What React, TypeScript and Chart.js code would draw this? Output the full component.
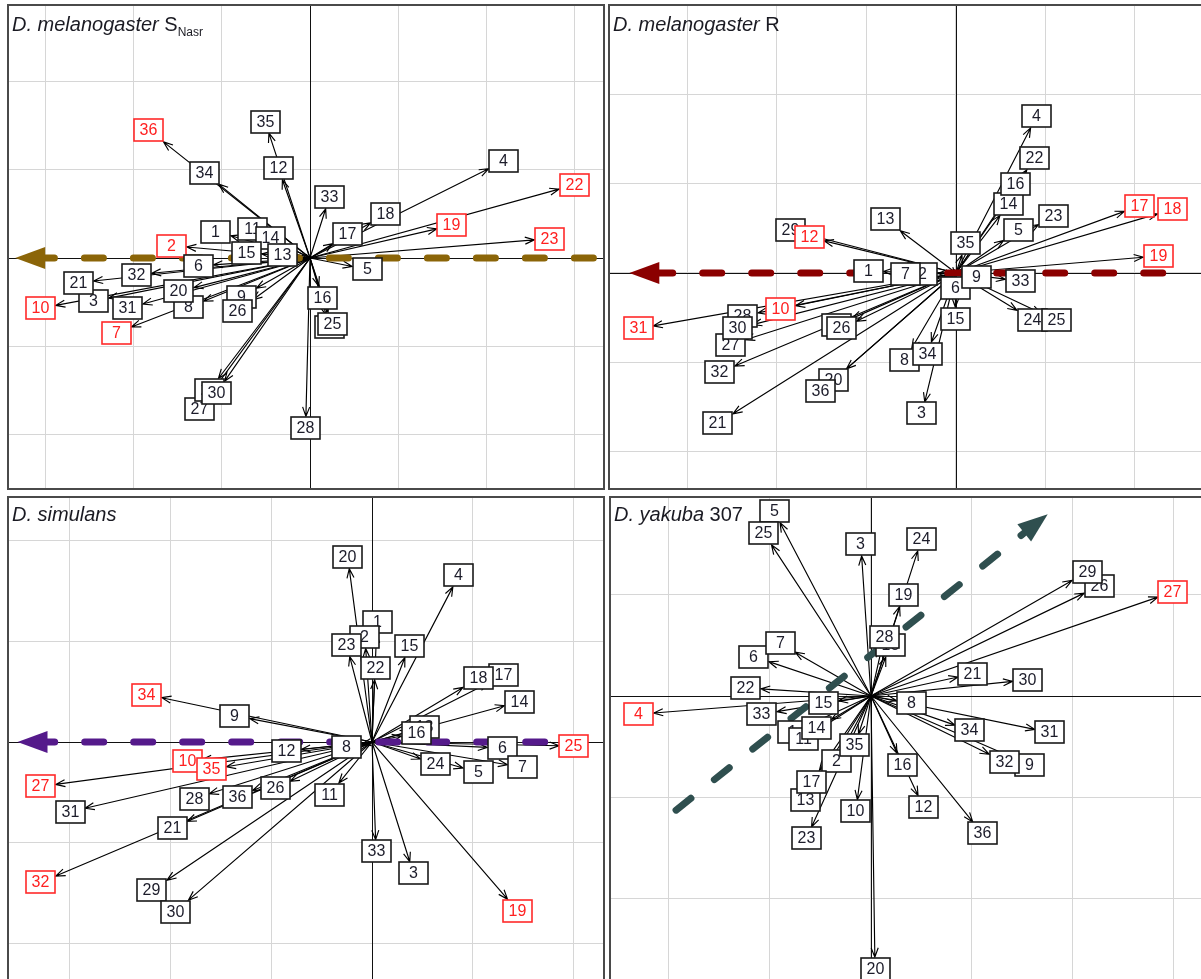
import React, { useEffect, useRef } from "react";
import { Chart, registerables } from "chart.js";

Chart.register(...registerables);

// ---------- D. melanogaster S_Nasr (top left) ----------
const TL_LABELS = ["1", "2", "3", "4", "5", "6", "7", "8", "9", "10", "11", "12", "14", "15", "13", "16", "17", "18", "19", "20", "21", "22", "23", "24", "25", "26", "27", "28", "29", "30", "31", "32", "33", "34", "35", "36"];
const TL_X = [-1.07, -1.57, -2.46, 2.2, 0.65, -1.27, -2.2, -1.38, -0.78, -3.06, -0.65, -0.36, -0.45, -0.72, -0.31, 0.14, 0.43, 0.86, 1.61, -1.49, -2.63, 3.0, 2.72, 0.22, 0.25, -0.82, -1.26, -0.05, -1.14, -1.06, -2.07, -1.97, 0.22, -1.2, -0.51, -1.83];
const TL_Y = [0.3, 0.14, -0.49, 1.1, -0.13, -0.09, -0.85, -0.56, -0.44, -0.57, 0.33, 1.02, 0.23, 0.06, 0.03, -0.45, 0.27, 0.5, 0.37, -0.38, -0.28, 0.83, 0.22, -0.78, -0.75, -0.6, -1.72, -1.93, -1.5, -1.53, -0.57, -0.19, 0.69, 0.97, 1.55, 1.45];
const TL_RED = ["36", "2", "10", "7", "19", "22", "23"];
const TL_VEC_X = [3.22, -3.35];
const TL_VEC_Y = [0, 0];

// ---------- D. melanogaster R (top right) ----------
const TR_LABELS = ["29", "1", "2", "3", "4", "5", "6", "7", "8", "9", "10", "11", "12", "13", "14", "15", "16", "17", "18", "19", "20", "21", "22", "23", "24", "25", "26", "27", "28", "30", "31", "32", "33", "34", "35", "36"];
const TR_X = [-1.85, -0.98, -0.37, -0.38, 0.9, 0.7, -0.01, -0.56, -0.57, 0.23, -1.96, -1.33, -1.64, -0.79, 0.59, -0.01, 0.67, 2.05, 2.42, 2.26, -1.37, -2.66, 0.88, 1.09, 0.85, 1.12, -1.28, -2.52, -2.38, -2.44, -3.55, -2.64, 0.72, -0.32, 0.11, -1.51];
const TR_Y = [0.48, 0.02, -0.01, -1.57, 1.75, 0.48, -0.17, -0.01, -0.97, -0.04, -0.4, -0.58, 0.4, 0.6, 0.77, -0.51, 1.0, 0.75, 0.71, 0.19, -1.2, -1.68, 1.28, 0.64, -0.52, -0.53, -0.62, -0.8, -0.48, -0.62, -0.62, -1.11, -0.09, -0.9, 0.33, -1.32];
const TR_RED = ["12", "10", "31", "17", "18", "19"];
const TR_VEC_X = [2.31, -3.65];
const TR_VEC_Y = [0, 0];

// ---------- D. simulans (bottom left) ----------
const BL_LABELS = ["1", "2", "3", "4", "5", "6", "7", "8", "9", "10", "11", "12", "13", "14", "15", "16", "17", "18", "19", "20", "21", "22", "23", "24", "25", "26", "27", "28", "29", "30", "31", "32", "33", "34", "35", "36"];
const BL_X = [0.05, -0.07, 0.41, 0.86, 1.05, 1.29, 1.49, -0.25, -1.36, -1.83, -0.42, -0.85, 0.52, 1.46, 0.37, 0.44, 1.3, 1.05, 1.44, -0.24, -1.98, 0.03, -0.25, 0.63, 2.0, -0.96, -3.28, -1.76, -2.18, -1.95, -2.99, -3.28, 0.04, -2.23, -1.59, -1.33];
const BL_Y = [1.19, 1.04, -1.3, 1.65, -0.3, -0.06, -0.25, -0.05, 0.26, -0.19, -0.52, -0.09, 0.15, 0.4, 0.95, 0.09, 0.66, 0.63, -1.67, 1.83, -0.85, 0.73, 0.96, -0.22, -0.04, -0.46, -0.44, -0.56, -1.47, -1.68, -0.69, -1.39, -1.08, 0.47, -0.27, -0.54];
const BL_RED = ["34", "10", "35", "27", "32", "19", "25"];
const BL_VEC_X = [1.71, -3.51];
const BL_VEC_Y = [0, 0];

// ---------- D. yakuba 307 (bottom right) ----------
const BR_LABELS = ["1", "2", "3", "4", "5", "6", "7", "8", "9", "10", "11", "12", "13", "14", "15", "16", "17", "18", "19", "20", "21", "22", "23", "24", "25", "26", "27", "28", "29", "30", "31", "32", "33", "34", "35", "36"];
const BR_X = [-0.78, -0.34, -0.1, -2.3, -0.96, -1.16, -0.9, 0.4, 1.57, -0.15, -0.67, 0.52, -0.65, -0.54, -0.47, 0.31, -0.59, 0.19, 0.32, 0.04, 1.01, -1.24, -0.64, 0.5, -1.06, 2.26, 2.99, 0.13, 2.14, 1.55, 1.77, 1.32, -1.08, 0.98, -0.16, 1.1];
const BR_Y = [-0.36, -0.64, 1.5, -0.18, 1.83, 0.39, 0.52, -0.07, -0.68, -1.14, -0.43, -1.1, -1.03, -0.32, -0.07, -0.68, -0.85, 0.5, 1.0, -2.7, 0.22, 0.08, -1.41, 1.55, 1.61, 1.09, 1.03, 0.58, 1.23, 0.16, -0.36, -0.65, -0.18, -0.34, -0.49, -1.36];
const BR_RED = ["4", "27"];
const BR_VEC_X = [-1.93, 1.75];
const BR_VEC_Y = [-1.13, 1.8];

const FONT = '"Liberation Sans", Arial, sans-serif';
const BOX_W = 29;
const BOX_H = 22;

type TitlePart = { text: string; italic?: boolean; size: number; dy?: number };

interface PanelSpec {
  key: string;
  left: number;
  top: number;
  width: number;
  height: number;
  xRange: [number, number];
  yRange: [number, number];
  labels: string[];
  xs: number[];
  ys: number[];
  red: string[];
  vecX: number[];
  vecY: number[];
  color: string;
  title: TitlePart[];
  titleY: number;
}

const PANELS: PanelSpec[] = [
  {
    key: "tl", left: 7, top: 4, width: 598, height: 486,
    xRange: [-3.443, 3.352], yRange: [-2.636, 2.886],
    labels: TL_LABELS, xs: TL_X, ys: TL_Y, red: TL_RED, vecX: TL_VEC_X, vecY: TL_VEC_Y,
    color: "#8B6508",
    title: [
      { text: "D. melanogaster ", italic: true, size: 20 },
      { text: "S", size: 20 },
      { text: "Nasr", size: 12, dy: 5 },
    ],
    titleY: 27,
  },
  {
    key: "tr", left: 608, top: 4, width: 600, height: 486,
    xRange: [-3.888, 2.816], yRange: [-2.425, 3.006],
    labels: TR_LABELS, xs: TR_X, ys: TR_Y, red: TR_RED, vecX: TR_VEC_X, vecY: TR_VEC_Y,
    color: "#8B0000",
    title: [
      { text: "D. melanogaster ", italic: true, size: 20 },
      { text: "R", size: 20 },
    ],
    titleY: 27,
  },
  {
    key: "bl", left: 7, top: 496, width: 598, height: 490,
    xRange: [-3.614, 2.307], yRange: [-2.416, 2.436],
    labels: BL_LABELS, xs: BL_X, ys: BL_Y, red: BL_RED, vecX: BL_VEC_X, vecY: BL_VEC_Y,
    color: "#551A8B",
    title: [{ text: "D. simulans", italic: true, size: 20 }],
    titleY: 25,
  },
  {
    key: "br", left: 609, top: 496, width: 600, height: 490,
    xRange: [-2.594, 3.347], yRange: [-2.871, 1.98],
    labels: BR_LABELS, xs: BR_X, ys: BR_Y, red: BR_RED, vecX: BR_VEC_X, vecY: BR_VEC_Y,
    color: "#2F4F4F",
    title: [
      { text: "D. yakuba ", italic: true, size: 20 },
      { text: "307", size: 20 },
    ],
    titleY: 25,
  },
];

function intTicks(min: number, max: number) {
  const out: { value: number }[] = [];
  for (let v = Math.ceil(min); v <= Math.floor(max); v++) out.push({ value: v });
  return out;
}

function makePlugin(p: PanelSpec) {
  return {
    id: "biplot-" + p.key,
    afterDatasetsDraw(chart: any) {
      const ctx: CanvasRenderingContext2D = chart.ctx;
      const sx = chart.scales.x;
      const sy = chart.scales.y;
      const area = chart.chartArea;
      const ox = sx.getPixelForValue(0);
      const oy = sy.getPixelForValue(0);
      ctx.save();

      // zero axes
      ctx.strokeStyle = "#111";
      ctx.lineWidth = 1;
      ctx.beginPath();
      const axX = Math.round(ox) + 0.5;
      const axY = Math.round(oy) + 0.5;
      ctx.moveTo(axX, area.top);
      ctx.lineTo(axX, area.bottom);
      ctx.moveTo(area.left, axY);
      ctx.lineTo(area.right, axY);
      ctx.stroke();

      const meta = chart.getDatasetMeta(0);
      const pts = meta.data.map((el: any) => ({ x: el.x, y: el.y }));

      // arrows
      ctx.strokeStyle = "#000";
      ctx.lineWidth = 1.15;
      const hw = BOX_W / 2 + 0.5;
      const hh = BOX_H / 2 + 0.5;
      pts.forEach((pt: { x: number; y: number }) => {
        const vx = pt.x - ox;
        const vy = pt.y - oy;
        const kx = Math.abs(vx) > 1e-6 ? hw / Math.abs(vx) : Infinity;
        const ky = Math.abs(vy) > 1e-6 ? hh / Math.abs(vy) : Infinity;
        const k = Math.min(kx, ky);
        if (k >= 1) return;
        const tx = pt.x - vx * k;
        const ty = pt.y - vy * k;
        const ang = Math.atan2(vy, vx);
        const L = 10;
        const th = 0.36;
        ctx.beginPath();
        ctx.moveTo(ox, oy);
        ctx.lineTo(tx, ty);
        ctx.moveTo(tx - L * Math.cos(ang - th), ty - L * Math.sin(ang - th));
        ctx.lineTo(tx, ty);
        ctx.lineTo(tx - L * Math.cos(ang + th), ty - L * Math.sin(ang + th));
        ctx.stroke();
      });

      // thick dashed vector
      const x0 = sx.getPixelForValue(p.vecX[0]);
      const y0 = sy.getPixelForValue(p.vecY[0]);
      const x1 = sx.getPixelForValue(p.vecX[1]);
      const y1 = sy.getPixelForValue(p.vecY[1]);
      const dx = x1 - x0;
      const dy = y1 - y0;
      const len = Math.hypot(dx, dy);
      const ux = dx / len;
      const uy = dy / len;
      const HL = 30;
      const HWd = 11;
      const bx = x1 - ux * HL;
      const by = y1 - uy * HL;
      ctx.strokeStyle = p.color;
      ctx.lineWidth = 7;
      ctx.lineCap = "round";
      ctx.setLineDash([19, 30]);
      ctx.beginPath();
      ctx.moveTo(x0, y0);
      ctx.lineTo(bx + ux * 2, by + uy * 2);
      ctx.stroke();
      ctx.setLineDash([]);
      ctx.lineCap = "butt";
      ctx.fillStyle = p.color;
      ctx.beginPath();
      ctx.moveTo(x1, y1);
      ctx.lineTo(bx - uy * HWd, by + ux * HWd);
      ctx.lineTo(bx + uy * HWd, by - ux * HWd);
      ctx.closePath();
      ctx.fill();

      // labels
      ctx.font = "16px " + FONT;
      ctx.textAlign = "center";
      ctx.textBaseline = "middle";
      pts.forEach((pt: { x: number; y: number }, i: number) => {
        const lab = p.labels[i];
        const isRed = p.red.includes(lab);
        const bx0 = Math.round(pt.x - BOX_W / 2);
        const by0 = Math.round(pt.y - BOX_H / 2);
        ctx.fillStyle = "#fff";
        ctx.fillRect(bx0, by0, BOX_W, BOX_H);
        ctx.strokeStyle = isRed ? "#ff2a2a" : "#1a1a1a";
        ctx.lineWidth = 1.6;
        ctx.strokeRect(bx0, by0, BOX_W, BOX_H);
        ctx.fillStyle = isRed ? "#ff2020" : "#1c1c2a";
        ctx.fillText(lab, bx0 + BOX_W / 2, by0 + BOX_H / 2 + 1);
      });

      // title
      ctx.textAlign = "left";
      ctx.textBaseline = "alphabetic";
      ctx.fillStyle = "#1a1a22";
      let tx = area.left + 5;
      p.title.forEach((part) => {
        ctx.font = (part.italic ? "italic " : "") + part.size + "px " + FONT;
        ctx.fillText(part.text, tx, p.titleY + (part.dy || 0));
        tx += ctx.measureText(part.text).width;
      });

      // frame
      ctx.strokeStyle = "#4a4a4a";
      ctx.lineWidth = 2;
      ctx.strokeRect(1, 1, chart.width - 2, chart.height - 2);

      ctx.restore();
    },
  };
}

function PanelChart({ p }: { p: PanelSpec }) {
  const ref = useRef<HTMLCanvasElement | null>(null);
  useEffect(() => {
    const canvas = ref.current;
    if (!canvas) return;
    const chart = new Chart(canvas, {
      type: "scatter",
      data: {
        datasets: [
          {
            data: p.xs.map((x, i) => ({ x, y: p.ys[i] })),
            pointRadius: 0,
            pointHoverRadius: 0,
            showLine: false,
          },
        ],
      },
      options: {
        animation: false,
        responsive: false,
        devicePixelRatio: 1,
        events: [],
        layout: { padding: 0 },
        plugins: {
          legend: { display: false },
          tooltip: { enabled: false },
          title: { display: false },
        },
        scales: {
          x: {
            type: "linear",
            min: p.xRange[0],
            max: p.xRange[1],
            ticks: { display: false },
            grid: { color: "#d6d6d6", lineWidth: 1, drawTicks: false },
            border: { display: false },
            afterBuildTicks: (axis: any) => {
              axis.ticks = intTicks(p.xRange[0], p.xRange[1]);
            },
          },
          y: {
            type: "linear",
            min: p.yRange[0],
            max: p.yRange[1],
            ticks: { display: false },
            grid: { color: "#d6d6d6", lineWidth: 1, drawTicks: false },
            border: { display: false },
            afterBuildTicks: (axis: any) => {
              axis.ticks = intTicks(p.yRange[0], p.yRange[1]);
            },
          },
        },
      } as any,
      plugins: [makePlugin(p)],
    });
    return () => chart.destroy();
  }, [p]);
  return (
    <canvas
      ref={ref}
      width={p.width}
      height={p.height}
      style={{ position: "absolute", left: p.left, top: p.top, width: p.width, height: p.height }}
    />
  );
}

export default function App() {
  return (
    <div
      style={{
        position: "fixed",
        left: 0,
        top: 0,
        width: 1201,
        height: 979,
        overflow: "hidden",
        background: "#fff",
      }}
    >
      {PANELS.map((p) => (
        <PanelChart key={p.key} p={p} />
      ))}
    </div>
  );
}
